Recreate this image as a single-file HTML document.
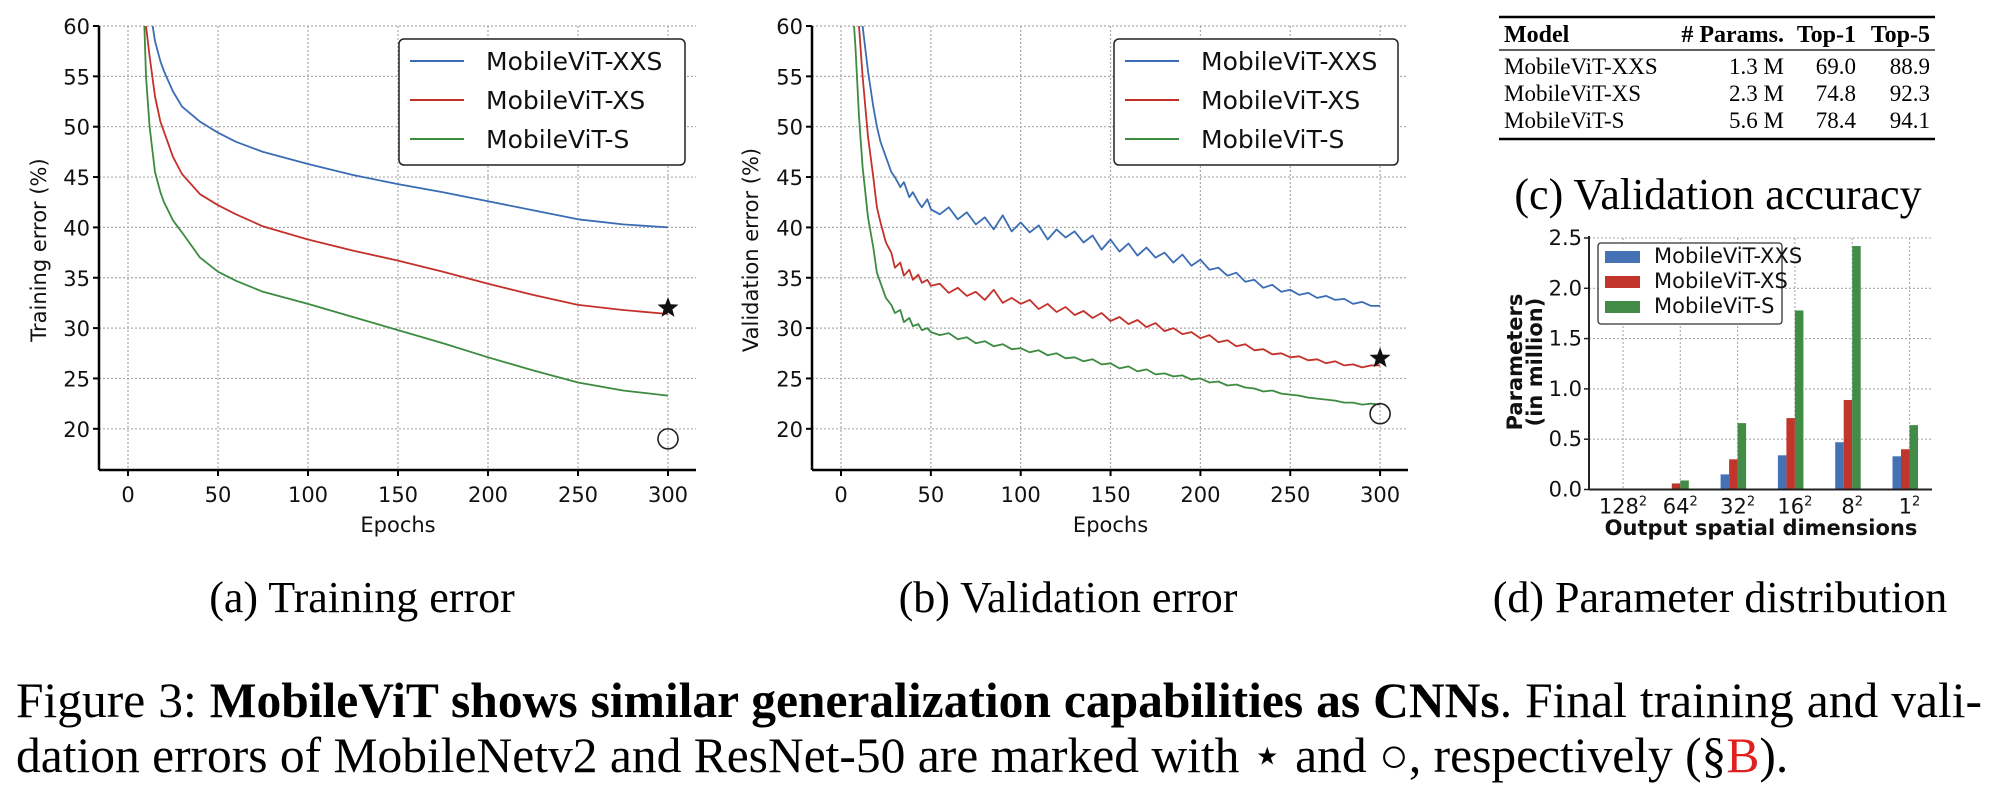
<!DOCTYPE html>
<html><head><meta charset="utf-8"><style>
html,body{margin:0;padding:0;background:#fff;}
body{position:relative;width:2000px;height:790px;overflow:hidden;}
svg{display:block;position:absolute;left:0;top:0;}
.tk{font-family:"DejaVu Sans","Liberation Sans",sans-serif;font-size:21px;fill:#111;}
.lg{font-family:"DejaVu Sans","Liberation Sans",sans-serif;font-size:25px;fill:#111;}
.ser{font-family:"Liberation Serif","DejaVu Serif",serif;fill:#000;}
.cap{position:absolute;left:16px;font-family:"Liberation Serif",serif;font-size:49.5px;color:#000;white-space:nowrap;line-height:1;}
</style></head><body>
<svg id="fig" width="2000" height="790" viewBox="0 0 2000 790" xmlns="http://www.w3.org/2000/svg">
<defs>
<clipPath id="clipA"><rect x="99" y="26" width="597" height="444"/></clipPath>
<clipPath id="clipB"><rect x="812" y="26" width="596" height="444"/></clipPath>
</defs>
<g id="chartA"></g>
<g id="chartB"></g>
<g id="chartD"></g>

<g>
<line x1="1499" y1="17" x2="1935" y2="17" stroke="#000" stroke-width="2.5"/>
<line x1="1499" y1="50" x2="1935" y2="50" stroke="#000" stroke-width="1.2"/>
<line x1="1499" y1="139" x2="1935" y2="139" stroke="#000" stroke-width="2.5"/>
<g class="ser" font-size="24" font-weight="bold">
<text x="1504" y="42">Model</text>
<text x="1784" y="42" text-anchor="end"># Params.</text>
<text x="1856" y="42" text-anchor="end">Top-1</text>
<text x="1930" y="42" text-anchor="end">Top-5</text>
</g>
<g class="ser" font-size="23">
<text x="1504" y="74">MobileViT-XXS</text><text x="1784" y="74" text-anchor="end">1.3 M</text><text x="1856" y="74" text-anchor="end">69.0</text><text x="1930" y="74" text-anchor="end">88.9</text>
</g>
<g class="ser" font-size="23">
<text x="1504" y="101">MobileViT-XS</text><text x="1784" y="101" text-anchor="end">2.3 M</text><text x="1856" y="101" text-anchor="end">74.8</text><text x="1930" y="101" text-anchor="end">92.3</text>
</g>
<g class="ser" font-size="23">
<text x="1504" y="128">MobileViT-S</text><text x="1784" y="128" text-anchor="end">5.6 M</text><text x="1856" y="128" text-anchor="end">78.4</text><text x="1930" y="128" text-anchor="end">94.1</text>
</g>
</g>
<text class="ser" x="1718" y="209" font-size="44" text-anchor="middle">(c) Validation accuracy</text>
<text class="ser" x="362" y="612" font-size="44" text-anchor="middle">(a) Training error</text>
<text class="ser" x="1068" y="612" font-size="44" text-anchor="middle">(b) Validation error</text>
<text class="ser" x="1720" y="612" font-size="44" text-anchor="middle">(d) Parameter distribution</text>
</svg>
<div class="cap" style="top:676px;width:1966px;text-align:justify;text-align-last:justify;">Figure 3: <b>MobileViT shows similar generalization capabilities as CNNs</b>. Final training and vali-</div>
<div class="cap" style="top:731px;">dation errors of MobileNetv2 and ResNet-50 are marked with ⋆ and ○, respectively (§<span style="color:#e02020">B</span>).</div>
<script>
// ---------- data: training error ----------
const trEpochs = [5,8,10,12,15,18,20,25,30,40,50,60,75,100,125,150,175,200,225,250,275,300];
const trXXS = [90,75,68,62,58.5,56.5,55.5,53.5,52,50.5,49.4,48.5,47.5,46.3,45.2,44.3,43.5,42.6,41.7,40.8,40.3,40];
const trXS  = [75,66,60,57,53,50.5,49.5,47,45.3,43.3,42.2,41.3,40.1,38.8,37.7,36.7,35.6,34.4,33.3,32.3,31.8,31.4];
const trS   = [75,66,55,50,45.5,43.5,42.5,40.7,39.5,37,35.6,34.7,33.6,32.4,31.1,29.8,28.5,27.1,25.8,24.6,23.8,23.3];
const trStar = [300, 32];
const trCircle = [300, 19];
// ---------- data: validation error ----------
const vaEpochs = [5,8,10,12,15,18,20,22,25,28,30,33,35,38,40,43,45,48,50,
 55,60,65,70,75,80,85,90,95,100,105,110,115,120,125,130,135,140,145,150,
 155,160,165,170,175,180,185,190,195,200,205,210,215,220,225,230,235,240,245,250,
 255,260,265,270,275,280,285,290,295,300];
const vaXXS = [90,75,66,60,55.5,52,50,48.5,47,45.5,45,44,44.5,43,43.5,42.5,42,42.8,41.8,
 41.3,42,40.8,41.5,40.3,41,39.8,41.2,39.6,40.5,39.5,40.2,38.8,39.8,39,39.6,38.5,39.2,37.8,38.8,
 37.6,38.4,37.2,38,37,37.5,36.5,37.3,36.2,36.8,35.8,36,35.2,35.5,34.6,34.8,34,34.3,33.6,33.8,
 33.3,33.5,33,33.2,32.8,32.9,32.4,32.6,32.2,32.2];
const vaXS = [80,66,60,55,49,45,42,40.5,38.5,37.5,36,36.5,35.2,35.8,34.8,35.3,34.5,34.8,34.2,
 34.4,33.5,34,33.2,33.6,32.8,33.8,32.5,33,32.4,32.8,31.9,32.4,31.6,32.1,31.3,31.7,31,31.5,30.7,
 31.1,30.4,30.8,30.1,30.5,29.7,30,29.4,29.6,29,29.3,28.6,28.8,28.2,28.4,27.8,27.9,27.4,27.5,27.1,
 27.2,26.8,26.9,26.5,26.7,26.3,26.4,26.1,26.3,26.3];
const vaS = [66,58,51,46,41,38,35.5,34.5,33,32.3,31.5,31.8,30.6,31,30.2,30.4,29.8,30,29.6,
 29.3,29.5,28.9,29.1,28.5,28.7,28.2,28.4,27.9,28,27.6,27.8,27.3,27.5,27,27.1,26.7,26.9,26.4,26.5,
 26,26.2,25.7,25.9,25.4,25.5,25.2,25.3,24.9,25,24.6,24.7,24.3,24.4,24.1,24,23.7,23.8,23.5,23.4,
 23.3,23.1,23,22.9,22.8,22.6,22.6,22.4,22.5,22.4];
const vaStar = [300, 27];
const vaCircle = [300, 21.5];
// ---------- data: parameter distribution ----------
const barCategories = ["128", "64", "32", "16", "8", "1"];
const barXXS = [0.005, 0.005, 0.15, 0.34, 0.47, 0.33];
const barXS  = [0.005, 0.06, 0.30, 0.71, 0.89, 0.40];
const barS   = [0.005, 0.09, 0.66, 1.78, 2.42, 0.64];
const barYTicks = [0.0, 0.5, 1.0, 1.5, 2.0, 2.5];
const lineYTicks = [20, 25, 30, 35, 40, 45, 50, 55, 60];
const lineXTicks = [0, 50, 100, 150, 200, 250, 300];
const seriesNames = ["MobileViT-XXS", "MobileViT-XS", "MobileViT-S"];

const NS = "http://www.w3.org/2000/svg";
const COL = ["#3a6db3", "#c4312b", "#3d8b40"];
const BCOL = ["#4472b4", "#c1352d", "#438c47"];
function mk(tag, attrs, parent) {
  const e = document.createElementNS(NS, tag);
  for (const k in attrs) e.setAttribute(k, attrs[k]);
  parent.appendChild(e);
  return e;
}
function starPath(cx, cy, R) {
  let d = "";
  for (let i = 0; i < 10; i++) {
    const r = i % 2 ? R * 0.42 : R;
    const a = -Math.PI / 2 + i * Math.PI / 5;
    d += (i ? "L" : "M") + (cx + r * Math.cos(a)).toFixed(1) + "," + (cy + r * Math.sin(a)).toFixed(1);
  }
  return d + "Z";
}

function lineChart(g, cfg) {
  const sx = v => cfg.x0 + v * cfg.kx;
  const sy = v => cfg.yTop + (60 - v) * cfg.ky;
  for (const t of lineXTicks) {
    const l = mk("line", {x1: sx(t), x2: sx(t), y1: cfg.yTop, y2: cfg.yBot, stroke: "#aaa", "stroke-width": 1.2, "stroke-dasharray": "2,2"}, g);
    
    
  }
  for (const t of lineYTicks) {
    const l = mk("line", {x1: cfg.left, x2: cfg.right, y1: sy(t), y2: sy(t), stroke: "#aaa", "stroke-width": 1.2, "stroke-dasharray": "2,2"}, g);
    
    
  }
  const sg = mk("g", {"clip-path": "url(#" + cfg.clip + ")"}, g);
  cfg.series.forEach((vals, i) => {
    const pts = vals.map((v, j) => sx(cfg.epochs[j]).toFixed(1) + "," + sy(v).toFixed(1)).join(" ");
    const p = mk("polyline", {points: pts, fill: "none", stroke: COL[i], "stroke-width": 1.8, "stroke-linejoin": "round"}, sg);
    
    
  });
  const st = mk("path", {d: starPath(sx(cfg.star[0]), sy(cfg.star[1]), 11), fill: "#111"}, g);
  
  
  const ci = mk("circle", {cx: sx(cfg.circle[0]), cy: sy(cfg.circle[1]), r: 10, fill: "none", stroke: "#222", "stroke-width": 1.6}, g);
  
  
  const ya = mk("line", {x1: cfg.left, x2: cfg.left, y1: cfg.yTop, y2: cfg.yBot, stroke: "#000", "stroke-width": 2.5}, g);
  
  
  const xa = mk("line", {x1: cfg.left, x2: cfg.right, y1: cfg.yBot, y2: cfg.yBot, stroke: "#000", "stroke-width": 2.5}, g);
  
  
  for (const t of lineYTicks) {
    mk("line", {x1: cfg.left - 6, x2: cfg.left, y1: sy(t), y2: sy(t), stroke: "#000", "stroke-width": 2}, g);
    const tx = mk("text", {x: cfg.left - 9, y: sy(t) + 8, "text-anchor": "end", class: "tk"}, g);
    tx.textContent = t;
    
    
  }
  for (const t of lineXTicks) {
    mk("line", {x1: sx(t), x2: sx(t), y1: cfg.yBot, y2: cfg.yBot + 6, stroke: "#000", "stroke-width": 2}, g);
    const tx = mk("text", {x: sx(t), y: cfg.yBot + 32, "text-anchor": "middle", class: "tk"}, g);
    tx.textContent = t;
    
    
  }
  const xl = mk("text", {x: sx(150), y: cfg.yBot + 62, "text-anchor": "middle", class: "tk", "font-size": 22}, g);
  xl.textContent = "Epochs";
  
  
  const yl = mk("text", {x: 0, y: 0, "text-anchor": "middle", class: "tk", "font-size": 23, transform: "translate(" + cfg.ylX + ",250) rotate(-90)"}, g);
  yl.textContent = cfg.ylabel;
  
  
  const lg = mk("g", {}, g);
  
  
  mk("rect", {x: cfg.lgX, y: 39, width: cfg.lgW, height: 126, rx: 5, fill: "#fff", stroke: "#222", "stroke-width": 1.5}, lg);
  seriesNames.forEach((n, i) => {
    const y = 61 + i * 39;
    mk("line", {x1: cfg.lgX + 11, x2: cfg.lgX + 65, y1: y, y2: y, stroke: COL[i], "stroke-width": 2}, lg);
    const t = mk("text", {x: cfg.lgX + 87, y: y + 9, class: "lg"}, lg);
    t.textContent = n;
    
    
  });
}

lineChart(document.getElementById("chartA"), {
  x0: 128, kx: 1.8, yTop: 26, ky: 10.07, yBot: 470, left: 99, right: 696, clip: "clipA",
  epochs: trEpochs, series: [trXXS, trXS, trS], star: trStar, circle: trCircle,
  ylabel: "Training error (%)", ylX: 46, lgX: 399, lgW: 286
});
lineChart(document.getElementById("chartB"), {
  x0: 841, kx: 1.797, yTop: 26, ky: 10.07, yBot: 470, left: 812, right: 1408, clip: "clipB",
  epochs: vaEpochs, series: [vaXXS, vaXS, vaS], star: vaStar, circle: vaCircle,
  ylabel: "Validation error (%)", ylX: 758, lgX: 1114, lgW: 284
});

(function () {
  const g = document.getElementById("chartD");
  const left = 1589, right = 1932, y0 = 489.5, kY = 100.6, c0 = 1623, dc = 57.3, bw = 8.5;
  const sx = i => c0 + i * dc;
  const sy = v => y0 - v * kY;
  barCategories.forEach((c, i) => {
    const l = mk("line", {x1: sx(i), x2: sx(i), y1: sy(2.5), y2: y0, stroke: "#aaa", "stroke-width": 1.1, "stroke-dasharray": "2,2"}, g);
    
    
  });
  barYTicks.forEach(t => {
    const l = mk("line", {x1: left, x2: right, y1: sy(t), y2: sy(t), stroke: "#aaa", "stroke-width": 1.1, "stroke-dasharray": "2,2"}, g);
    
    
  });
  [barXXS, barXS, barS].forEach((vals, s) => {
    vals.forEach((v, i) => {
      const r = mk("rect", {x: sx(i) + (s - 2) * bw, y: sy(v), width: bw, height: v * kY, fill: BCOL[s]}, g);
      
      
    });
  });
  const ya = mk("line", {x1: left, x2: left, y1: sy(2.5) - 2, y2: y0, stroke: "#222", "stroke-width": 2}, g);
  
  
  const xa = mk("line", {x1: left, x2: right, y1: y0, y2: y0, stroke: "#222", "stroke-width": 2}, g);
  
  
  barYTicks.forEach(t => {
    mk("line", {x1: left - 5, x2: left, y1: sy(t), y2: sy(t), stroke: "#222", "stroke-width": 1.5}, g);
    const tx = mk("text", {x: left - 7, y: sy(t) + 7, "text-anchor": "end", class: "tk", "font-size": 19}, g);
    tx.textContent = t.toFixed(1);
    
    
  });
  barCategories.forEach((c, i) => {
    const tx = mk("text", {x: sx(i), y: y0 + 24, "text-anchor": "middle", class: "tk", "font-size": 19}, g);
    tx.textContent = c;
    const sup = mk("tspan", {dy: -8, "font-size": 13}, tx);
    sup.textContent = "2";
    
    
  });
  const xl = mk("text", {x: 1761, y: 535, "text-anchor": "middle", class: "tk", "font-size": 18, "font-weight": "bold"}, g);
  xl.textContent = "Output spatial dimensions";
  
  
  const yl = mk("text", {x: 0, y: 0, "text-anchor": "middle", class: "tk", "font-size": 18, "font-weight": "bold", transform: "translate(1522,362) rotate(-90)"}, g);
  
  
  const t1 = mk("tspan", {x: 0, dy: 0}, yl); t1.textContent = "Parameters";
  const t2 = mk("tspan", {x: 0, dy: 20}, yl); t2.textContent = "(in million)";
  const lg = mk("g", {}, g);
  
  
  mk("rect", {x: 1598, y: 243, width: 184, height: 81, rx: 3, fill: "#fff", stroke: "#333", "stroke-width": 1.3}, lg);
  seriesNames.forEach((n, i) => {
    const y = 257 + i * 25;
    mk("rect", {x: 1605, y: y - 6, width: 35, height: 12, fill: BCOL[i]}, lg);
    const t = mk("text", {x: 1654, y: y + 6, class: "tk", "font-size": 16}, lg);
    t.textContent = n;
    
    
  });
})();
</script>
</body></html>
